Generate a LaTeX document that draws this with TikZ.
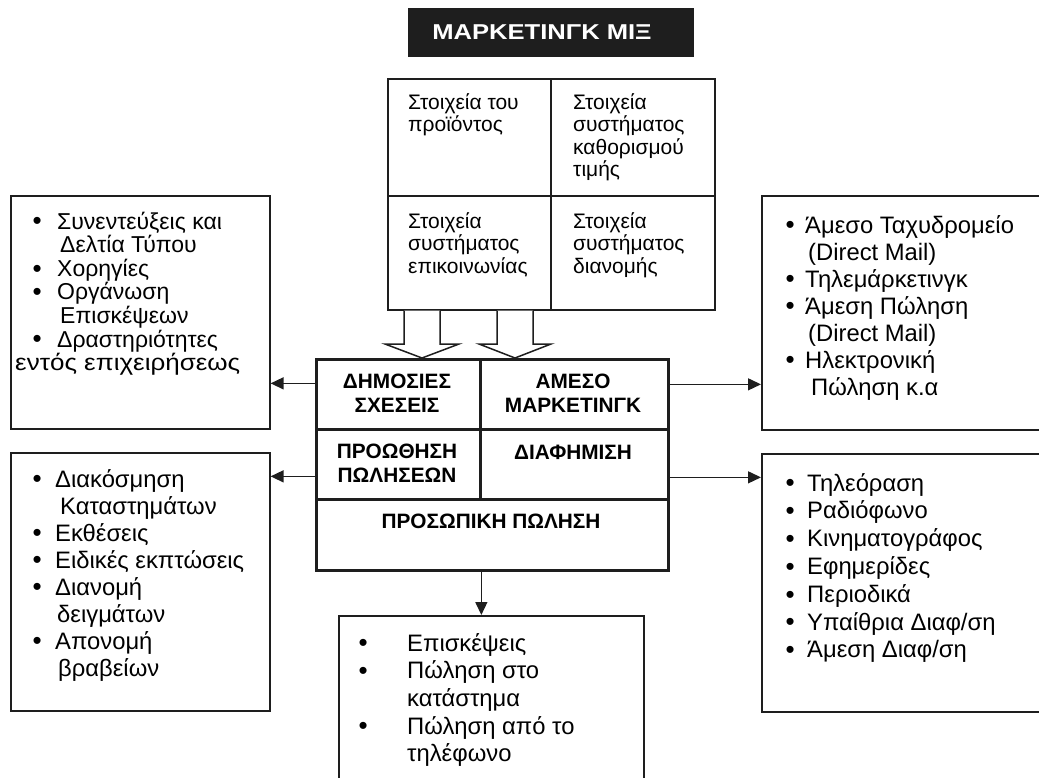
\documentclass[tikz,border=0pt]{standalone}
\usepackage{fontspec}
\usepackage{graphicx}
\setmainfont{Liberation Sans}
\usetikzlibrary{arrows.meta}
\definecolor{ink}{HTML}{1E1E1E}
% bullet lists: a bullet followed by its text, or an indented continuation line
\newlength\bulskip
\newcommand\bigbul{\raisebox{-0.8pt}{\fontsize{26}{26}\selectfont\textbullet}}
\newcommand\lbul[1]{\hbox{\makebox[\bulskip][l]{\hspace*{-0.5pt}\bigbul}#1}}
\newcommand\lcont[2][0pt]{\hbox{\hspace*{\dimexpr\bulskip+#1\relax}#2}}
% a column of lines with a fixed baseline distance; its baseline is that of the first line
\newcommand\lstack[2]{\vtop{\baselineskip=#1\lineskiplimit=-100pt\lineskip=0pt #2}}
\newcommand\cenline[1]{\hbox to 0pt{\hss #1\hss}}
\begin{document}
\begin{tikzpicture}[x=1pt,y=-1pt,
  box/.style={draw=ink,line width=1.6pt,inner sep=0pt,anchor=north west},
  cell/.style={draw=ink,line width=2.7pt,inner sep=0pt,anchor=north west},
  conn/.style={draw=ink,line width=1.4pt,-{Triangle[length=13pt,width=12pt]}},
  hollow/.style={draw=ink,line width=1.5pt,fill=white,line join=miter},
  txt/.style={inner sep=0pt,anchor=base west,text=black},
  listfont/.style={font=\fontsize{23.8}{27}\selectfont},
  tightfont/.style={font=\fontsize{23}{26}\selectfont},
  gridfont/.style={font=\fontsize{21}{24}\selectfont},
  headfont/.style={font=\bfseries\fontsize{20.8}{24}\selectfont}]
\useasboundingbox (0,0) rectangle (1039,777);
\clip (0,0) rectangle (1039,777);

% title bar
\node[box,fill=ink,minimum width=284pt,minimum height=47pt] (title) at (408,8) {};
\node[inner sep=0pt,anchor=base,text=white,font=\bfseries\fontsize{21.5}{24}\selectfont] (titletext) at (542,39.5) {\scalebox{1.19}[1]{ΜΑΡΚΕΤΙΝΓΚ ΜΙΞ}};

% the four elements of the mix
\node[box,minimum width=163pt,minimum height=117pt] (g11) at (387,78) {};
\node[box,minimum width=164pt,minimum height=117pt] (g12) at (550,78) {};
\node[box,minimum width=163pt,minimum height=114pt] (g21) at (387,195) {};
\node[box,minimum width=164pt,minimum height=114pt] (g22) at (550,195) {};
\node[txt,gridfont] (g11t) at (408,109) {\lstack{22.5pt}{\hbox{Στοιχεία του}\hbox{προϊόντος}}};
\node[txt,gridfont] (g12t) at (573,109) {\lstack{22.5pt}{\hbox{Στοιχεία}\hbox{συστήματος}\hbox{καθορισμού}\hbox{τιμής}}};
\node[txt,gridfont] (g21t) at (408,228) {\lstack{22.5pt}{\hbox{Στοιχεία}\hbox{συστήματος}\hbox{επικοινωνίας}}};
\node[txt,gridfont] (g22t) at (573,228) {\lstack{22.5pt}{\hbox{Στοιχεία}\hbox{συστήματος}\hbox{διανομής}}};

% two hollow arrows feeding the communication mix
\draw[hollow] (g21.south -| 404,0) -- (404,344) -- (385,344) -- (422,358) -- (459,344) -- (440,344) -- (g21.south -| 440,0);
\draw[hollow] (g21.south -| 497,0) -- (497,344) -- (479,344) -- (515,358) -- (551,344) -- (533,344) -- (g21.south -| 533,0);

% communication mix
\node[cell,minimum width=164pt,minimum height=70pt] (dp) at (315,358) {};
\node[cell,minimum width=188pt,minimum height=70pt] (dm) at (479,358) {};
\node[cell,minimum width=164pt,minimum height=70pt] (ps) at (315,428) {};
\node[cell,minimum width=188pt,minimum height=70pt] (ad) at (479,428) {};
\node[cell,minimum width=352pt,minimum height=71pt] (pp) at (315,498) {};
\node[headfont,inner sep=0pt,anchor=base] (dpt) at (397,388) {\lstack{24pt}{\cenline{ΔΗΜΟΣΙΕΣ}\cenline{ΣΧΕΣΕΙΣ}}};
\node[headfont,inner sep=0pt,anchor=base] (dmt) at (573,388) {\lstack{24pt}{\cenline{ΑΜΕΣΟ}\cenline{ΜΑΡΚΕΤΙΝΓΚ}}};
\node[headfont,inner sep=0pt,anchor=base] (pst) at (397,458) {\lstack{24pt}{\cenline{ΠΡΟΩΘΗΣΗ}\cenline{ΠΩΛΗΣΕΩΝ}}};
\node[headfont,inner sep=0pt,anchor=base] (adt) at (573,459) {ΔΙΑΦΗΜΙΣΗ};
\node[headfont,inner sep=0pt,anchor=base] (ppt) at (491,528) {ΠΡΟΣΩΠΙΚΗ ΠΩΛΗΣΗ};

% detail boxes
\node[box,minimum width=259pt,minimum height=233pt] (lb1) at (10,195) {};
\node[box,minimum width=259pt,minimum height=258pt] (lb2) at (10,452) {};
\node[box,minimum width=300pt,minimum height=234pt] (rb1) at (761,195) {};
\node[box,minimum width=300pt,minimum height=258pt] (rb2) at (761,453) {};
\node[box,minimum width=305pt,minimum height=200pt] (bx) at (338,615) {};

\setlength\bulskip{24pt}
\node[txt,tightfont] (lb1t) at (33,229) {\lstack{23.6pt}{%
  \lbul{Συνεντεύξεις και}\lcont[3pt]{Δελτία Τύπου}\lbul{Χορηγίες}%
  \lbul{Οργάνωση}\lcont[3pt]{Επισκέψεων}\lbul{Δραστηριότητες}%
  \lcont[-42pt]{\scalebox{1.13}[1]{εντός επιχειρήσεως}}}};
\setlength\bulskip{22pt}
\node[txt,listfont] (lb2t) at (33,487) {\lstack{27pt}{%
  \lbul{Διακόσμηση}\lcont[5pt]{Καταστημάτων}\lbul{Εκθέσεις}%
  \lbul{Ειδικές εκπτώσεις}\lbul{Διανομή}\lcont[2pt]{δειγμάτων}%
  \lbul{Απονομή}\lcont[3pt]{βραβείων}}};
\setlength\bulskip{19pt}
\node[txt,listfont] (rb1t) at (786,233) {\lstack{27pt}{%
  \lbul{Άμεσο Ταχυδρομείο}\lcont[3pt]{(Direct Mail)}\lbul{Τηλεμάρκετινγκ}%
  \lbul{Άμεση Πώληση}\lcont[3pt]{(Direct Mail)}\lbul{Ηλεκτρονική}%
  \lcont[6pt]{Πώληση κ.α}}};
\setlength\bulskip{21pt}
\node[txt,listfont] (rb2t) at (786,491) {\lstack{27.8pt}{%
  \lbul{Τηλεόραση}\lbul{Ραδιόφωνο}\lbul{Κινηματογράφος}\lbul{Εφημερίδες}%
  \lbul{Περιοδικά}\lbul{Υπαίθρια Διαφ/ση}\lbul{Άμεση Διαφ/ση}}};
\setlength\bulskip{48pt}
\node[txt,listfont] (bxt) at (359,651) {\lstack{27.7pt}{%
  \lbul{Επισκέψεις}\lbul{Πώληση στο}\lcont{κατάστημα}%
  \lbul{Πώληση από το}\lcont{τηλέφωνο}}};

% connectors from the mix to the detail boxes
\coordinate (pa) at ([yshift=11pt]dp.west);
\coordinate (pb) at ([yshift=-12pt]ps.west);
\coordinate (pc) at ([yshift=10pt]dm.east);
\coordinate (pd) at ([yshift=-13pt]ad.east);
\coordinate (pe) at ([xshift=-11pt]pp.south);
\draw[conn] (pa) -- (pa -| lb1.east);
\draw[conn] (pb) -- (pb -| lb2.east);
\draw[conn] (pc) -- (pc -| rb1.west);
\draw[conn] (pd) -- (pd -| rb2.west);
\draw[conn] (pe) -- (pe |- bx.north);
\end{tikzpicture}
\end{document}
